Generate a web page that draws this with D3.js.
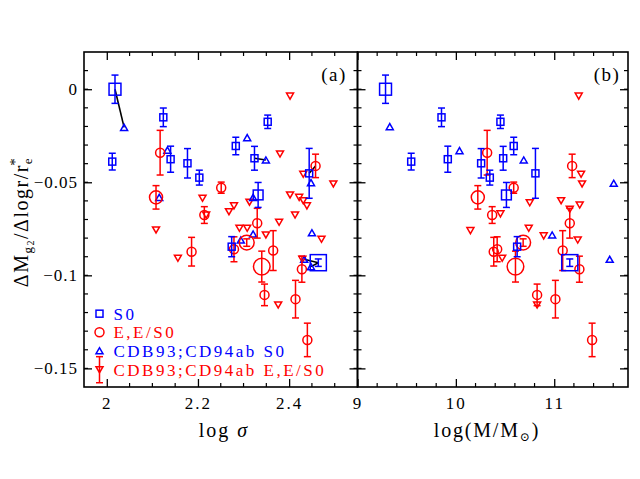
<!DOCTYPE html>
<html><head><meta charset="utf-8">
<script src="https://cdn.jsdelivr.net/npm/d3@7"></script>
<style>body{margin:0;background:#fff}svg{display:block}</style>
</head><body>
<script>
// ---- data ----
const s0LogSigma = [2.018, 2.012, 2.124, 2.140, 2.177, 2.203, 2.353, 2.283, 2.324, 2.444, 2.332, 2.274, 2.464];
const s0LogM     = [9.285, 9.546, 9.854, 9.918, 10.257, 10.345, 10.453, 10.588, 10.481, 10.809, 10.514, 10.623, 11.158];
const s0Slope    = [0.000, -0.0389, -0.0151, -0.0376, -0.0398, -0.0475, -0.0175, -0.0305, -0.0371, -0.0452, -0.0568, -0.0846, -0.0932];
const s0Err      = [0.0076, 0.0045, 0.005, 0.007, 0.0079, 0.004, 0.0036, 0.0047, 0.0064, 0.0134, 0.0067, 0.0054, 0.002];
const s0Weight   = [1.7, 1, 1, 1, 1, 1, 1, 1, 1, 1, 1.4, 1, 2.3];

const eLogSigma = [2.117, 2.108, 2.251, 2.458, 2.214, 2.186, 2.330, 2.307, 2.279, 2.365, 2.340, 2.346, 2.414, 2.440, 2.428];
const eLogM     = [10.318, 10.223, 10.588, 11.182, 10.369, 10.385, 11.158, 10.684, 10.42, 11.086, 10.606, 10.826, 11.012, 11.385, 11.256];
const eSlope    = [-0.0341, -0.0581, -0.0529, -0.0412, -0.0676, -0.0873, -0.0720, -0.0824, -0.0860, -0.0867, -0.0953, -0.1105, -0.1128, -0.1347, -0.0967];
const eErr      = [0.012, 0.0063, 0.003, 0.0063, 0.0045, 0.0077, 0.008, 0.002, 0.0067, 0.0107, 0.0083, 0.0058, 0.0101, 0.009, 0.007];
const eWeight   = [1, 1.45, 1, 1, 1, 1, 1, 1.65, 1, 1, 1.85, 1, 1, 1, 1];

const cdbS0SigmaX = [2.038, 2.133, 2.115, 2.308, 2.349, 2.321, 2.321, 2.294, 2.450, 2.448, 2.433, 2.448];
const cdbS0SigmaY = [-0.0205, -0.0327, -0.0581, -0.026, -0.038, -0.0581, -0.0778, -0.081, -0.0771, -0.0502, -0.0914, -0.0953];
const cdbS0MassX  = [9.328, 10.037, 10.69, 11.605, 10.979, 11.564];
const cdbS0MassY  = [-0.0201, -0.033, -0.038, -0.0505, -0.0783, -0.0914];

const cdbESigmaX = [2.402, 2.380, 2.431, 2.497, 2.210, 2.402, 2.422, 2.431, 2.439, 2.279, 2.268, 2.313, 2.413, 2.291, 2.308, 2.378, 2.349, 2.471, 2.108, 2.156, 2.376, 2.218, 2.429];
const cdbESigmaY = [-0.0037, -0.0348, -0.0457, -0.0509, -0.0586, -0.0568, -0.0581, -0.0599, -0.0627, -0.0627, -0.0658, -0.0607, -0.0676, -0.0747, -0.0747, -0.0715, -0.0783, -0.0806, -0.0756, -0.0908, -0.1159, -0.0676, -0.0914];
const cdbEMassX  = [11.249, 11.273, 11.283, 10.751, 11.07, 11.158, 11.259, 10.453, 10.148, 10.741, 10.893, 11.239, 10.471, 10.826];
const cdbEMassY  = [-0.0037, -0.0457, -0.0509, -0.061, -0.0599, -0.0645, -0.0622, -0.067, -0.076, -0.0747, -0.0788, -0.081, -0.0908, -0.1159];

// connecting lines (logσ, slope pairs)
const linkFrom = [[2.018, 0.0], [2.324, -0.0371], [2.444, -0.0452], [2.433, -0.0914], [2.448, -0.0953]];
const linkTo   = [[2.038, -0.0205], [2.349, -0.038], [2.458, -0.0412], [2.464, -0.0932], [2.464, -0.0932]];

const yTicks = [0, -0.05, -0.1, -0.15];
const xTicksSigma = [2, 2.2, 2.4];
const xTicksMass = [9, 10, 11];
const legendLabels = ["S0", "E,E/S0", "CDB93;CD94ab S0", "CDB93;CD94ab E,E/S0"];

// ---- drawing ----
const W = 640, H = 479;
const BLUE = "#0000ff", RED = "#ff0000";
const FONT = "'Liberation Serif', 'DejaVu Serif', serif";
const svg = d3.select("body").append("svg").attr("width", W).attr("height", H);

const y = d3.scaleLinear().domain([-0.16, 0.02]).range([387, 52]);
const xL = d3.scaleLinear().domain([1.95, 2.55]).range([84, 357.5]);
const xR = d3.scaleLinear().domain([9, 11.75]).range([357.5, 628]);

const yMinor = d3.range(-16, 3).map(d => d / 100).filter(d => d > -0.16 && d < 0.02);
const fmtY = d => d === 0 ? "0" : "\u2212" + Math.abs(d);

function axes(x, majorX, minorX, showYLabels) {
  const [x0, x1] = x.range();
  const [y1, y0] = y.range();
  const g = svg.append("g");
  const minor = g.append("g").attr("stroke", "#000").attr("stroke-width", 1.2);
  minorX.forEach(v => {
    minor.append("line").attr("x1", x(v)).attr("x2", x(v)).attr("y1", y1).attr("y2", y1 - 4);
    minor.append("line").attr("x1", x(v)).attr("x2", x(v)).attr("y1", y0).attr("y2", y0 + 4);
  });
  yMinor.forEach(v => {
    minor.append("line").attr("x1", x0).attr("x2", x0 + 4).attr("y1", y(v)).attr("y2", y(v));
    minor.append("line").attr("x1", x1).attr("x2", x1 - 4).attr("y1", y(v)).attr("y2", y(v));
  });
  const ab = d3.axisBottom(x).tickValues(majorX).tickSize(-8).tickPadding(10).tickFormat(d3.format(""));
  const at = d3.axisTop(x).tickValues(majorX).tickSize(-8).tickFormat("");
  const al = d3.axisLeft(y).tickValues(yTicks).tickSize(-8).tickPadding(6).tickFormat(showYLabels ? fmtY : "");
  const ar = d3.axisRight(y).tickValues(yTicks).tickSize(-8).tickFormat("");
  [[ab, `translate(0,${y1})`, "2px"], [at, `translate(0,${y0})`, "0"], [al, `translate(${x0},0)`, "1px"], [ar, `translate(${x1},0)`, "0"]].forEach(([a, t, ls]) => {
    const gg = g.append("g").attr("transform", t).call(a);
    gg.select(".domain").remove();
    gg.selectAll("line").attr("stroke", "#000").attr("stroke-width", 1.3);
    gg.selectAll("text").attr("fill", "#000").style("font-family", FONT).style("font-size", "17px").style("letter-spacing", ls);
  });
  g.append("rect").attr("x", x0).attr("y", y0).attr("width", x1 - x0).attr("height", y1 - y0)
    .attr("fill", "none").attr("stroke", "#000").attr("stroke-width", 1.6);
}

function errbar(g, cx, v, e, color) {
  if (!e) return;
  const ya = y(v + e), yb = y(v - e);
  g.append("line").attr("x1", cx).attr("x2", cx).attr("y1", ya).attr("y2", yb).attr("stroke", color).attr("stroke-width", 1.5);
  [ya, yb].forEach(yy => g.append("line").attr("x1", cx - 3.5).attr("x2", cx + 3.5).attr("y1", yy).attr("y2", yy).attr("stroke", color).attr("stroke-width", 1.5));
}
function square(g, cx, cy, s, color) {
  g.append("rect").attr("x", cx - s / 2).attr("y", cy - s / 2).attr("width", s).attr("height", s)
    .attr("fill", "none").attr("stroke", color).attr("stroke-width", 1.5);
}
function circle(g, cx, cy, r, color) {
  g.append("circle").attr("cx", cx).attr("cy", cy).attr("r", r).attr("fill", "none").attr("stroke", color).attr("stroke-width", 1.5);
}
function tri(g, cx, cy, s, color, down) {
  const h = s * 0.87, k = down ? -1 : 1;
  const pts = [[cx - s / 2, cy + k * h / 2], [cx + s / 2, cy + k * h / 2], [cx, cy - k * h / 2]];
  g.append("polygon").attr("points", pts.map(p => p.join(",")).join(" "))
    .attr("fill", "none").attr("stroke", color).attr("stroke-width", 1.5).attr("stroke-linejoin", "miter");
}

function panel(x, s0X, eX, cS0X, cS0Y, cEX, cEY, links) {
  const g = svg.append("g");
  if (links) {
    linkFrom.forEach((a, i) => {
      const b = linkTo[i];
      g.append("line").attr("x1", x(a[0])).attr("y1", y(a[1])).attr("x2", x(b[0])).attr("y2", y(b[1]))
        .attr("stroke", "#000").attr("stroke-width", 1.6);
    });
  }
  cEX.forEach((v, i) => tri(g, x(v), y(cEY[i]), 7, RED, true));
  cS0X.forEach((v, i) => tri(g, x(v), y(cS0Y[i]), 7, BLUE, false));
  eX.forEach((v, i) => { errbar(g, x(v), eSlope[i], eErr[i], RED); circle(g, x(v), y(eSlope[i]), 4.5 * eWeight[i], RED); });
  s0X.forEach((v, i) => { errbar(g, x(v), s0Slope[i], s0Err[i], BLUE); square(g, x(v), y(s0Slope[i]), 7 * s0Weight[i], BLUE); });
}

axes(xL, xTicksSigma, d3.range(2.0, 2.551, 0.05).filter(v => Math.abs(v - 2) > 1e-6 && Math.abs(v - 2.2) > 1e-6 && Math.abs(v - 2.4) > 1e-6 && v < 2.54), true);
axes(xR, xTicksMass, d3.range(9.2, 11.71, 0.2).filter(v => Math.abs(v - 10) > 1e-6 && Math.abs(v - 11) > 1e-6), false);

panel(xL, s0LogSigma, eLogSigma, cdbS0SigmaX, cdbS0SigmaY, cdbESigmaX, cdbESigmaY, true);
panel(xR, s0LogM, eLogM, cdbS0MassX, cdbS0MassY, cdbEMassX, cdbEMassY, false);

// panel tags
const tagStyle = t => t.attr("text-anchor", "middle").style("font-family", FONT).style("font-size", "19px").style("letter-spacing", "1.5px");
svg.append("text").attr("x", 334).attr("y", 81).call(tagStyle).text("(a)");
svg.append("text").attr("x", 607).attr("y", 81).call(tagStyle).text("(b)");

// axis titles
const xt1 = svg.append("text").attr("x", 224).attr("y", 437).attr("text-anchor", "middle").style("font-family", FONT).style("font-size", "20px").style("letter-spacing", "2px");
xt1.append("tspan").text("log  ");
xt1.append("tspan").style("font-style", "italic").text("σ");
const xt2 = svg.append("text").attr("x", 487).attr("y", 437).attr("text-anchor", "middle").style("font-family", FONT).style("font-size", "20px").style("letter-spacing", "1.8px");
xt2.append("tspan").text("log(M/M");
xt2.append("tspan").attr("dy", 4).style("font-size", "12px").text("⊙");
xt2.append("tspan").attr("dy", -4).text(")");

const yl = svg.append("text").attr("transform", "translate(28,222) rotate(-90)").attr("text-anchor", "middle")
  .style("font-family", FONT).style("font-size", "20px").style("letter-spacing", "1.5px");
yl.append("tspan").text("ΔM");
yl.append("tspan").attr("dy", 4).style("font-size", "13px").text("g");
yl.append("tspan").attr("dy", 2).style("font-size", "10px").text("2");
yl.append("tspan").attr("dy", -6).text("/Δlogr/r");
yl.append("tspan").attr("dy", 4).style("font-size", "13px").text("e");
yl.append("tspan").attr("dx", -9).attr("dy", -12).style("font-size", "15px").text("*");

// legend
const lg = svg.append("g");
const lx = xL(1.984);
const legY = [y(-0.1206), y(-0.1306), y(-0.1405), y(-0.1507)];
const lColors = [BLUE, RED, BLUE, RED];
square(lg, lx, legY[0], 7, BLUE);
circle(lg, lx, legY[1], 4.5, RED);
tri(lg, lx, legY[2], 7, BLUE, false);
errbar(lg, lx, -0.1507, 0.007, RED);
tri(lg, lx, legY[3], 7, RED, true);
legendLabels.forEach((t, i) => lg.append("text").attr("x", lx + 14).attr("y", legY[i] + 6)
  .attr("fill", lColors[i]).style("font-family", FONT).style("font-size", "17px").style("letter-spacing", "2.5px").text(t));
</script>
</body></html>
